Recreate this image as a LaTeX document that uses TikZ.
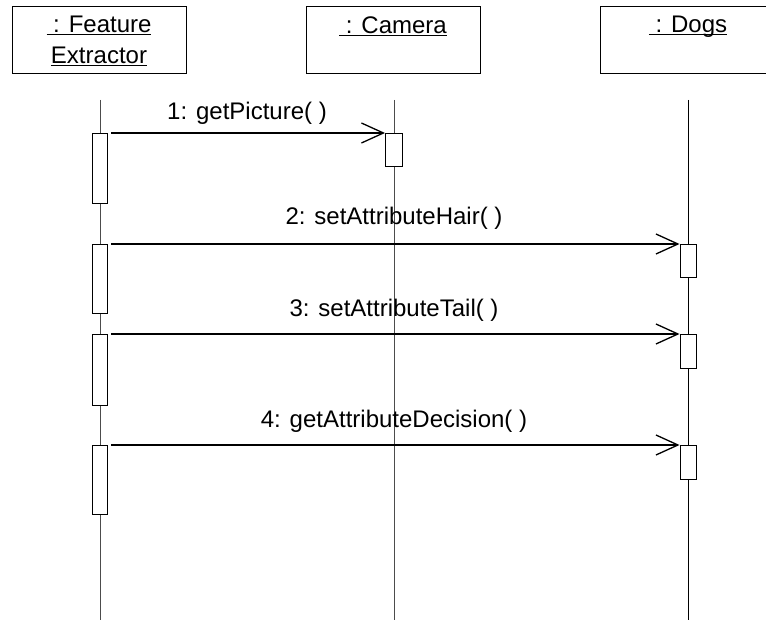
\documentclass[tikz,border=0pt]{standalone}
\usepackage{fontspec}
\setmainfont{Liberation Sans}
\usetikzlibrary{arrows.meta}
\newcommand\myul[1]{\underline{\smash{#1}}}
\begin{document}
\begin{tikzpicture}[x=1pt,y=-1pt,
  objbox/.style={draw=black,line width=1pt,fill=white,minimum width=174pt,minimum height=67pt,inner sep=0pt},
  objlabel/.style={font=\fontsize{24}{31}\selectfont,align=center,anchor=base,inner sep=0pt},
  lifeline/.style={draw=black!70,line width=1pt},
  actbox/.style={draw=black,line width=1pt,fill=white,minimum width=15pt,inner sep=0pt},
  msg/.style={draw=black,line width=1.3pt,-{Straight Barb[length=22pt,width=20pt,line width=1.3pt]}},
  msglabel/.style={font=\fontsize{24}{28}\selectfont,anchor=base,inner sep=0pt}]
\useasboundingbox (0,0) rectangle (766,620);
\clip (0,0) rectangle (766,620);
% object boxes
\node[objbox] (fe) at (99,40.5) {};
\node[objbox] (cam) at (393,40.5) {};
\node[objbox,minimum width=180pt] (dogs) at (690,40.5) {};
\node[objlabel] (fel) at (99,64) {\myul{\ : Feature}\\\myul{Extractor}};
\node[objlabel] (caml) at (393,34) {\myul{\ : Camera}};
\node[objlabel] (dogsl) at (688,33) {\myul{\ : Dogs}};
% lifeline ends
\coordinate (fe0) at (100,100); \coordinate (fe1) at (100,622);
\coordinate (cam0) at (394,100); \coordinate (cam1) at (394,622);
\coordinate (dogs0) at (688,100); \coordinate (dogs1) at (688,622);
\draw[lifeline] (fe0) -- (fe1);
\draw[lifeline] (cam0) -- (cam1);
\draw[lifeline,draw=black] (dogs0) -- (dogs1);
% activations on Feature Extractor
\node[actbox,minimum height=70pt,anchor=north] (a1) at (100,133) {};
\node[actbox,minimum height=69pt,anchor=north] (a2) at (100,244) {};
\node[actbox,minimum height=71pt,anchor=north] (a3) at (100,334) {};
\node[actbox,minimum height=69pt,anchor=north] (a4) at (100,445) {};
% activations on Camera and Dogs
\node[actbox,minimum width=17pt,minimum height=33pt,anchor=north] (c1) at (394,133) {};
\node[actbox,minimum width=16pt,minimum height=33pt,anchor=north] (d2) at (688,244) {};
\node[actbox,minimum width=16pt,minimum height=34pt,anchor=north] (d3) at (688,334) {};
\node[actbox,minimum width=16pt,minimum height=34pt,anchor=north] (d4) at (688,445) {};
% messages
\draw[msg] ([xshift=3pt]a1.north east) -- (c1.north west);
\draw[msg] ([xshift=3pt]a2.north east) -- (d2.north west);
\draw[msg] ([xshift=3pt]a3.north east) -- (d3.north west);
\draw[msg] ([xshift=3pt]a4.north east) -- (d4.north west);
\node[msglabel] (m1) at (247,120) {1: getPicture( )};
\node[msglabel] (m2) at (394,225) {2: setAttributeHair( )};
\node[msglabel] (m3) at (394,317) {3: setAttributeTail( )};
\node[msglabel] (m4) at (394,427) {4: getAttributeDecision( )};
\end{tikzpicture}
\end{document}
